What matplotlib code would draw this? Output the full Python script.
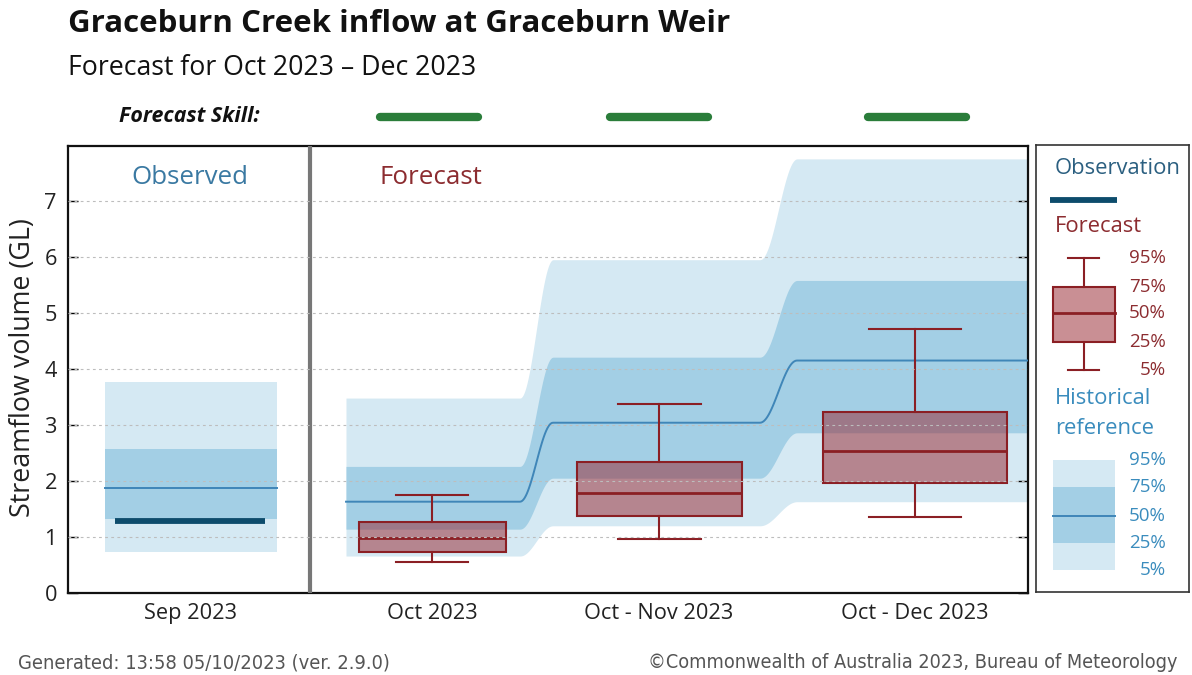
import numpy as np
import matplotlib
matplotlib.use("Agg")
import matplotlib.pyplot as plt
from matplotlib.patches import Rectangle

# ---------------- data ----------------
categories = ["Sep 2023", "Oct 2023", "Oct - Nov 2023", "Oct - Dec 2023"]
obs_value = 1.29
# historical reference for observed month (Sep)
obs_hist = {"p5": 0.74, "p25": 1.32, "p50": 1.87, "p75": 2.57, "p95": 3.76}
# historical reference for forecast periods
hist_p5 = [0.66, 1.20, 1.63]
hist_p25 = [1.14, 2.05, 2.86]
hist_p50 = [1.63, 3.04, 4.15]
hist_p75 = [2.26, 4.21, 5.58]
hist_p95 = [3.48, 5.95, 7.75]
# forecast box plots
fc_p5 = [0.55, 0.96, 1.35]
fc_p25 = [0.74, 1.38, 1.96]
fc_p50 = [0.99, 1.79, 2.54]
fc_p75 = [1.27, 2.33, 3.24]
fc_p95 = [1.75, 3.38, 4.72]
yticks = [0, 1, 2, 3, 4, 5, 6, 7]
pct_labels = ["95%", "75%", "50%", "25%", "5%"]

# ---------------- layout (pixel based) ----------------
W, H = 1192, 675
FONT = "Open Sans"
plt.rcParams["font.family"] = [FONT, "DejaVu Sans"]

fig = plt.figure(figsize=(W / 100, H / 100), dpi=100)

AX_L, AX_R, AX_T, AX_B = 68, 1028, 146, 593


def fx(px):
    return px / W


def fy(py):
    return 1 - py / H


ax = fig.add_axes([fx(AX_L), fy(AX_B), fx(AX_R - AX_L), (AX_B - AX_T) / H])
ax.set_xlim(0, AX_R - AX_L)
ax.set_ylim(0, 7.98)

# x positions (pixels relative to axes left)
cat_pos = [190 - AX_L, 432 - AX_L, 659 - AX_L, 915 - AX_L]
box_w = [147, 165, 184]
cap_w = [72, 83, 92]
sep_x = 310 - AX_L

LIGHT = "#d5e9f3"
DARK = "#a3cfe5"
MED = "#3f86b8"
OBS = "#0d4c6c"
RED = "#8b1f24"
BOXFACE = (0.60, 0.16, 0.20, 0.52)
TXT = "#222222"

# --- Sep historical reference + observation
sx0, sx1 = 105 - AX_L, 277 - AX_L
ax.add_patch(Rectangle((sx0, obs_hist["p5"]), sx1 - sx0, obs_hist["p95"] - obs_hist["p5"],
                       facecolor=LIGHT, edgecolor="none", zorder=1))
ax.add_patch(Rectangle((sx0, obs_hist["p25"]), sx1 - sx0, obs_hist["p75"] - obs_hist["p25"],
                       facecolor=DARK, edgecolor="none", zorder=2))
ax.plot([sx0, sx1], [obs_hist["p50"]] * 2, color=MED, lw=1.4, zorder=3)
ax.plot([115 - AX_L, 265 - AX_L], [obs_value] * 2, color=OBS, lw=4.2,
        solid_capstyle="butt", zorder=4)

# --- forecast-period historical bands with smooth steps
seg_start = [346 - AX_L, 553 - AX_L, 797 - AX_L]
seg_end = [520 - AX_L, 760 - AX_L, AX_R - AX_L]


def smooth_steps(vals):
    xs, ys = [], []
    for i, v in enumerate(vals):
        xs += [seg_start[i], seg_end[i]]
        ys += [v, v]
        if i < len(vals) - 1:
            t = np.linspace(0, 1, 30)[1:-1]
            s = 0.5 - 0.5 * np.cos(np.pi * t)
            xs += list(seg_end[i] + t * (seg_start[i + 1] - seg_end[i]))
            ys += list(v + s * (vals[i + 1] - v))
    return np.array(xs), np.array(ys)


xb, y5 = smooth_steps(hist_p5)
_, y25 = smooth_steps(hist_p25)
_, y50 = smooth_steps(hist_p50)
_, y75 = smooth_steps(hist_p75)
_, y95 = smooth_steps(hist_p95)
ax.fill_between(xb, y5, y95, color=LIGHT, lw=0, zorder=1)
ax.fill_between(xb, y25, y75, color=DARK, lw=0, zorder=2)
ax.plot(xb, y50, color=MED, lw=1.4, zorder=3)

# --- forecast boxes
stats = []
for i in range(3):
    stats.append({"whislo": fc_p5[i], "q1": fc_p25[i], "med": fc_p50[i],
                  "q3": fc_p75[i], "whishi": fc_p95[i], "fliers": []})
ax.bxp(stats, positions=cat_pos[1:], widths=box_w, capwidths=cap_w,
       showfliers=False, patch_artist=True, manage_ticks=False,
       boxprops=dict(facecolor=BOXFACE, edgecolor=RED, lw=1.5),
       medianprops=dict(color=RED, lw=2.0),
       whiskerprops=dict(color=RED, lw=1.5),
       capprops=dict(color=RED, lw=1.5), zorder=5)

# separator
ax.axvline(sep_x, color="#777777", lw=3, zorder=6)

# grid on top
for yv in yticks[1:]:
    ax.axhline(yv, color="#bdbdbd", lw=0.8, ls=(0, (2.5, 3)), zorder=7)

ax.set_yticks(yticks)
ax.set_yticklabels([str(v) for v in yticks], fontsize=14, color=TXT)
ax.set_xticks(cat_pos)
ax.set_xticklabels(categories, fontsize=14, color=TXT)
ax.tick_params(axis="x", length=0, pad=7)
ax.tick_params(axis="y", direction="in", length=7, width=1, right=True, pad=8)
ax.set_ylabel("Streamflow volume (GL)", fontsize=17, color=TXT)
ax.yaxis.label.set_va("center")
ax.yaxis.set_label_coords((23 - AX_L) / (AX_R - AX_L), 0.505)
for sp in ax.spines.values():
    sp.set_linewidth(1.6)
    sp.set_color("#111111")

t_obs = ax.text(190 - AX_L, 7.42, "Observed", ha="center", va="center", fontsize=16,
                color="#3a79a2", zorder=8)
t_fc = ax.text(380 - AX_L, 7.42, "Forecast", ha="left", va="center", fontsize=16,
               color="#8c2c30", zorder=8)

# ---------------- header ----------------
t_title = fig.text(fx(68), fy(24), "Graceburn Creek inflow at Graceburn Weir", fontsize=22,
                   fontweight="bold", va="center", ha="left", color="#111111")
t_sub = fig.text(fx(68), fy(68), "Forecast for Oct 2023 \u2013 Dec 2023", fontsize=18,
                 va="center", ha="left", color="#111111")
t_skill = fig.text(fx(260), fy(117), "Forecast Skill:", fontsize=13, fontweight="bold",
                   fontstyle="italic", va="center", ha="right", color="#111111")
for c in [429, 659, 917]:
    fig.add_artist(plt.Line2D([fx(c - 49), fx(c + 49)], [fy(117), fy(117)],
                              color="#2a7d3a", lw=6, solid_capstyle="round"))

# ---------------- legend panel ----------------
lg = fig.add_axes([fx(1036), fy(592), fx(1189 - 1036), (592 - 145) / H])
lg.set_xlim(1036, 1189)
lg.set_ylim(592, 145)
lg.set_xticks([])
lg.set_yticks([])
for sp in lg.spines.values():
    sp.set_linewidth(1.2)
    sp.set_color("#333333")

t_l1 = lg.text(1055, 169, "Observation", fontsize=15, color="#2b5f80", va="center")
lg.plot([1050, 1117], [200, 200], color=OBS, lw=4.2, solid_capstyle="butt")
t_l2 = lg.text(1055, 227, "Forecast", fontsize=15, color="#8c2c30", va="center")

ly = [258, 287, 313, 342, 370]
lg.add_patch(Rectangle((1053, ly[1]), 62, ly[3] - ly[1],
                       facecolor=BOXFACE, edgecolor=RED, lw=1.5))
lg.plot([1053, 1115], [ly[2], ly[2]], color=RED, lw=2)
lg.plot([1084, 1084], [ly[0], ly[1]], color=RED, lw=1.5)
lg.plot([1084, 1084], [ly[3], ly[4]], color=RED, lw=1.5)
lg.plot([1068, 1099], [ly[0], ly[0]], color=RED, lw=1.5)
lg.plot([1068, 1099], [ly[4], ly[4]], color=RED, lw=1.5)
pct_txt = []
for yy, lab in zip(ly, pct_labels):
    pct_txt.append(lg.text(1166, yy, lab, fontsize=12, color="#8c2c30", va="center", ha="right"))

t_l3 = lg.text(1055, 399, "Historical", fontsize=15, color="#3a8cbd", va="center")
t_l4 = lg.text(1055, 428, "reference", fontsize=15, color="#3a8cbd", va="center")
hy = [460, 487, 516, 543, 570]
lg.add_patch(Rectangle((1053, hy[0]), 62, hy[4] - hy[0], facecolor=LIGHT, edgecolor="none"))
lg.add_patch(Rectangle((1053, hy[1]), 62, hy[3] - hy[1], facecolor=DARK, edgecolor="none"))
lg.plot([1053, 1115], [hy[2], hy[2]], color=MED, lw=1.4)
for yy, lab in zip(hy, pct_labels):
    pct_txt.append(lg.text(1166, yy, lab, fontsize=12, color="#3a8cbd", va="center", ha="right"))

# ---------------- footer ----------------
t_f1 = fig.text(fx(18), fy(663), "Generated: 13:58 05/10/2023 (ver. 2.9.0)", fontsize=11,
                color="#555555", va="center", ha="left", family="DejaVu Sans",
                fontstretch="condensed")
t_f2 = fig.text(fx(1177), fy(663), "\u00a9Commonwealth of Australia 2023, Bureau of Meteorology",
                fontsize=11, color="#555555", va="center", ha="right", family="DejaVu Sans",
                fontstretch="condensed")

# ---------------- fit text sizes to the reference's text widths ----------------
fig.canvas.draw()
r = fig.canvas.get_renderer()


def fit(t, target, use_height=False):
    bb = t.get_window_extent(r)
    cur = bb.height if use_height else bb.width
    t.set_fontsize(t.get_fontsize() * target / cur)
    return t.get_fontsize()


fit(t_title, 659)
fit(t_sub, 407)
fit(t_skill, 140)
fit(t_obs, 117)
fit(t_fc, 103)
fit(ax.yaxis.label, 300, use_height=True)
size_leg = fit(t_l1, 126)
for t in (t_l2, t_l3, t_l4):
    t.set_fontsize(size_leg)
size_pct = fit(pct_txt[0], 37)
for t in pct_txt:
    t.set_fontsize(size_pct)
fit(t_f1, 372)
fit(t_f2, 529)

xl = ax.get_xticklabels()
target_x = [92, 91, 152, 150]
ratios = [tw / lab.get_window_extent(r).width for lab, tw in zip(xl, target_x)]
tick_size = 14 * float(np.mean(ratios))
ax.tick_params(axis="both", labelsize=tick_size)

fig.savefig("out.png", dpi=100)
